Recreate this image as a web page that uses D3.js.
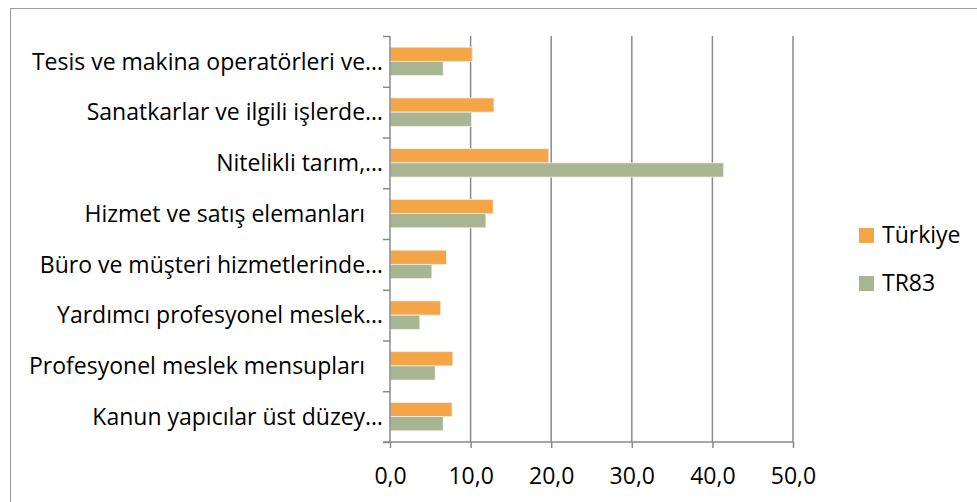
<!DOCTYPE html>
<html>
<head>
<meta charset="utf-8">
<script src="https://cdn.jsdelivr.net/npm/d3@7"></script>
<style>
	body { margin: 0; background: #fff; }
	svg text { font-family: "Open Sans", sans-serif; fill: #000; white-space: pre; }
</style>
</head>
<body>
<svg id="chart" width="977" height="502"></svg>
<script>
var categories = [
	"Tesis ve makina operatörleri ve…",
	"Sanatkarlar ve ilgili işlerde…",
	"Nitelikli tarım,…",
	"Hizmet ve satış elemanları   ",
	"Büro ve müşteri hizmetlerinde…",
	"Yardımcı profesyonel meslek…",
	"Profesyonel meslek mensupları   ",
	"Kanun yapıcılar üst düzey…"
];
var seriesNames = ["Türkiye", "TR83"];
var turkiye = [10.2, 12.9, 19.7, 12.8, 7.0, 6.3, 7.8, 7.7];
var tr83 = [6.6, 10.1, 41.4, 11.9, 5.2, 3.7, 5.6, 6.6];
var xTicks = [0, 10, 20, 30, 40, 50];
var colors = ["#F4A547", "#A7B592"];

(function () {
	var svg = d3.select("#chart");
	var pLeft = 390, pRight = 793, pTop = 36, pBottom = 442;
	var fontSize = 23;

	// outer chart border
	svg.append("rect")
		.attr("x", 10.5).attr("y", 8.5)
		.attr("width", 1000).attr("height", 1000)
		.attr("fill", "none").attr("stroke", "#9a9a9a").attr("stroke-width", 1);

	var x = d3.scaleLinear().domain([0, 50]).range([pLeft, pRight]);
	var y = d3.scaleBand().domain(categories).range([pTop, pBottom]).paddingInner(0.44).paddingOuter(0.22);
	var ySub = d3.scaleBand().domain(seriesNames).range([0, y.bandwidth()]);

	// vertical gridlines
	svg.append("g").selectAll("line")
		.data(xTicks.slice(1))
		.enter().append("line")
		.attr("x1", function (d) { return x(d); })
		.attr("x2", function (d) { return x(d); })
		.attr("y1", pTop).attr("y2", pBottom)
		.attr("stroke", "#8a8a8a").attr("stroke-width", 1.5);

	// bars
	var data = categories.map(function (c, i) {
		return {cat: c, values: [turkiye[i], tr83[i]]};
	});
	var groups = svg.append("g").selectAll("g")
		.data(data)
		.enter().append("g")
		.attr("transform", function (d) { return "translate(0," + y(d.cat) + ")"; });
	groups.selectAll("rect")
		.data(function (d) { return d.values.map(function (v, j) { return {name: seriesNames[j], v: v, j: j}; }); })
		.enter().append("rect")
		.attr("x", x(0))
		.attr("y", function (d) { return ySub(d.name); })
		.attr("width", function (d) { return x(d.v) - x(0); })
		.attr("height", ySub.bandwidth())
		.attr("fill", function (d) { return colors[d.j]; })
		.attr("stroke", "#f4efe6").attr("stroke-width", 0.8);

	// y axis
	var yAxis = d3.axisLeft(d3.scaleLinear().domain([0, categories.length]).range([pTop, pBottom]))
		.ticks(categories.length).tickSize(7).tickFormat("");
	var gy = svg.append("g").attr("transform", "translate(" + pLeft + ",0)").call(yAxis);
	gy.selectAll("path, line").attr("stroke", "#8a8a8a").attr("stroke-width", 1.5);
	gy.select(".domain").attr("d", "M0," + pTop + "V" + pBottom);

	svg.append("g").selectAll("text")
		.data(categories)
		.enter().append("text")
		.attr("x", pLeft - 7)
		.attr("y", function (d) { return y(d) + y.bandwidth() / 2; })
		.attr("dy", "0.36em")
		.attr("text-anchor", "end")
		.attr("font-size", fontSize)
		.text(function (d) { return d; });

	// x axis
	var xAxis = d3.axisBottom(x).tickValues(xTicks).tickSize(6)
		.tickFormat(function (d) { return d3.format(".1f")(d).replace(".", ","); });
	var gx = svg.append("g").attr("transform", "translate(0," + pBottom + ")").call(xAxis);
	gx.selectAll("path, line").attr("stroke", "#8a8a8a").attr("stroke-width", 1.5);
	gx.select(".domain").attr("d", "M" + (pLeft - 7) + ",0H" + pRight);
	gx.selectAll("text").attr("font-size", fontSize).attr("dy", "1.43em")
		.style("font-family", "'Open Sans', sans-serif").attr("fill", "#000");

	// legend
	var legend = svg.append("g").selectAll("g")
		.data(seriesNames)
		.enter().append("g")
		.attr("transform", function (d, i) { return "translate(859," + (228 + i * 48) + ")"; });
	legend.append("rect").attr("width", 15).attr("height", 15)
		.attr("fill", function (d, i) { return colors[i]; });
	legend.append("text").attr("x", 23).attr("y", 15).attr("font-size", fontSize)
		.text(function (d) { return d; });
})();
</script>
</body>
</html>
